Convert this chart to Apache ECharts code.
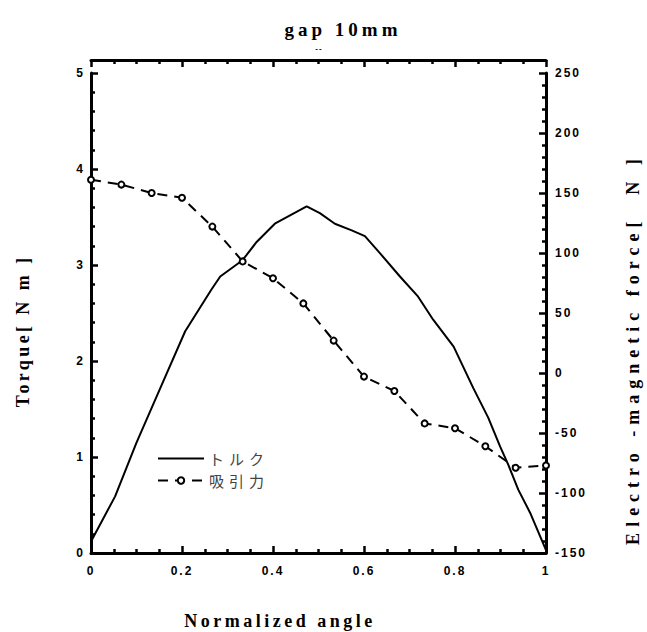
<!DOCTYPE html>
<html>
<head>
<meta charset="utf-8">
<script src="https://cdn.jsdelivr.net/npm/echarts@6/dist/echarts.min.js"></script>
<style>
html,body{margin:0;padding:0;background:#fff;}
#chart{width:647px;height:632px;}
</style>
</head>
<body>
<div id="chart"></div>
<script>
// ---- data ----
const titleText = 'gap 10mm';
const xName = 'Normalized angle';
const leftName = 'Torque[ N m ]';
const rightName = 'Electro -magnetic force[  N ]';
const seriesNames = ['トルク', '吸引力'];

const torqueX = [0, 0.053, 0.1, 0.159, 0.207, 0.264, 0.284, 0.333, 0.364, 0.404, 0.474, 0.503, 0.536, 0.573, 0.602, 0.632, 0.679, 0.719, 0.752, 0.797, 0.84, 0.873, 0.899, 0.917, 0.939, 0.965, 1.0];
const torqueY = [0.12, 0.59, 1.15, 1.79, 2.31, 2.74, 2.88, 3.05, 3.24, 3.43, 3.61, 3.54, 3.43, 3.36, 3.30, 3.14, 2.88, 2.67, 2.43, 2.15, 1.72, 1.41, 1.11, 0.92, 0.66, 0.42, 0.03];

const forceX = [0, 0.0667, 0.1333, 0.2, 0.2667, 0.3333, 0.4, 0.4667, 0.5333, 0.6, 0.6667, 0.7333, 0.8, 0.8667, 0.9333, 1.0];
const forceY = [161, 157, 150, 146, 122, 93, 79, 58, 27, -3, -15, -42, -46, -61, -79, -77];

const xTicks = {min: 0, max: 1, interval: 0.2};
const leftTicks = {min: 0, max: 5, interval: 1};
const rightTicks = {min: -150, max: 250, interval: 50};

// ---- chart ----
const chart = echarts.init(document.getElementById('chart'), null, {renderer: 'svg'});
const pair = (xs, ys) => xs.map((x, i) => [x, ys[i]]);
const tickFont = {fontFamily: 'Liberation Sans', fontWeight: 'bold', fontSize: 12, color: '#000'};
const axisLine = {show: true, onZero: false, lineStyle: {color: '#000', width: 3}};
const serif = 'bold 18px "Liberation Serif"';
const tick = {inside: true, length: 7, lineStyle: {color: '#000', width: 2.5}};
const minor = n => ({show: true, splitNumber: n, length: 4, lineStyle: {color: '#000', width: 2.5}});

const option = {
  animation: false,
  backgroundColor: '#fff',
  grid: {left: 91, right: 101, top: 73, bottom: 79},
  title: {
    text: titleText, left: 338, top: 15, textAlign: 'center',
    textStyle: {fontFamily: 'Liberation Serif', fontWeight: 'bold', fontSize: 19, color: '#000'}
  },
  legend: {
    orient: 'vertical', left: 157, top: 451, padding: 0, itemWidth: 46, itemHeight: 8, itemGap: 7,
    data: [{name: seriesNames[0], icon: 'path://M0,0h46v2h-46z'}, {name: seriesNames[1]}],
    textStyle: {fontFamily: 'Noto Sans CJK JP', fontSize: 15, color: '#444'}
  },
  xAxis: [{
    type: 'value', position: 'bottom', min: xTicks.min, max: xTicks.max, interval: xTicks.interval,
    axisLine: axisLine, axisTick: tick, minorTick: minor(4),
    splitLine: {show: false},
    axisLabel: Object.assign({margin: 12}, tickFont)
  }, {
    type: 'value', position: 'top', offset: 13, min: xTicks.min, max: xTicks.max, interval: xTicks.interval,
    axisLine: axisLine, axisTick: tick, minorTick: minor(4),
    splitLine: {show: false},
    axisLabel: {show: false}
  }],
  yAxis: [{
    type: 'value', position: 'left', min: leftTicks.min, max: leftTicks.max, interval: leftTicks.interval,
    axisLine: axisLine, axisTick: tick, minorTick: minor(5),
    splitLine: {show: false},
    axisLabel: Object.assign({margin: 6}, tickFont)
  }, {
    type: 'value', position: 'right', min: rightTicks.min, max: rightTicks.max, interval: rightTicks.interval,
    axisLine: axisLine, axisTick: tick, minorTick: minor(5),
    splitLine: {show: false},
    axisLabel: Object.assign({margin: 9}, tickFont)
  }],
  graphic: [
    {type: 'text', x: 23, y: 331, rotation: Math.PI / 2,
     style: {text: leftName, font: serif, fill: '#000', textAlign: 'center', textVerticalAlign: 'middle'}},
    {type: 'text', x: 633, y: 349, rotation: Math.PI / 2,
     style: {text: rightName, font: serif, fill: '#000', textAlign: 'center', textVerticalAlign: 'middle'}},
    {type: 'text', x: 280, y: 621,
     style: {text: xName, font: serif, fill: '#000', textAlign: 'center', textVerticalAlign: 'middle'}},
    {type: 'text', x: 319, y: 48,
     style: {text: '--', font: 'bold 8px "Liberation Sans"', fill: '#000', textAlign: 'center', textVerticalAlign: 'middle'}}
  ],
  series: [{
    name: seriesNames[0], type: 'line', xAxisIndex: 0, yAxisIndex: 0,
    data: pair(torqueX, torqueY), showSymbol: false, symbol: 'none',
    lineStyle: {color: '#000', width: 2}, itemStyle: {color: '#000'}
  }, {
    name: seriesNames[1], type: 'line', xAxisIndex: 0, yAxisIndex: 1,
    data: pair(forceX, forceY), symbol: 'emptyCircle', symbolSize: 6,
    lineStyle: {color: '#000', width: 2, type: [10, 7]},
    itemStyle: {color: '#000', borderColor: '#000', borderWidth: 1.6}
  }]
};
chart.setOption(option);

function spaceText() {
  document.querySelectorAll('#chart text').forEach(t => {
    const s = t.textContent;
    let ls = 2;
    if (s === titleText) ls = 4;
    else if (s === leftName) ls = 3.4;
    else if (s === rightName) ls = 6;
    else if (s === xName) ls = 3.5;
    else if (seriesNames.indexOf(s) >= 0) ls = 5;
    else if (s === '--') ls = 1;
    t.setAttribute('letter-spacing', ls);
  });
}
chart.on('finished', spaceText);
spaceText();
</script>
</body>
</html>
